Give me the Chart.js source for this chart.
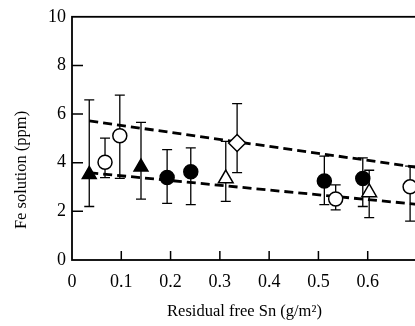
<!DOCTYPE html>
<html lang="en">
<head>
  <meta charset="UTF-8">
  <title>Fe solution vs residual free Sn</title>
  <style>
* {
  margin: 0;
  padding: 0;
  box-sizing: border-box;
}
html, body {
  width: 415px;
  height: 326px;
  overflow: hidden;
  background: #fff;
}
.chart-body {
  position: relative;
  width: 430px;
  height: 326px;
}
  </style>
</head>
<body>
  <div class="chart-body">
    <canvas id="myChart"></canvas>
  </div>
  <script src="https://cdn.jsdelivr.net/npm/chart.js@4.4.1/dist/chart.umd.min.js"></script>
  <script>
    // values (x in g/m2, y in ppm)
    const filledTriX = [0.035, 0.14];
    const filledTriY = [3.52, 3.82];
    const filledTriHi = [6.58, 5.66];
    const filledTriLo = [2.2, 2.5];

    const openCircX = [0.067, 0.097, 0.535, 0.686];
    const openCircY = [4.02, 5.11, 2.51, 3.01];
    const openCircHi = [5.01, 6.78, 3.09, 3.86];
    const openCircLo = [3.39, 3.36, 2.06, 1.6];

    const filledCircX = [0.193, 0.241, 0.512, 0.59];
    const filledCircY = [3.39, 3.63, 3.25, 3.35];
    const filledCircHi = [4.54, 4.61, 4.27, 4.2];
    const filledCircLo = [2.33, 2.28, 2.28, 2.2];

    const openTriX = [0.312, 0.603];
    const openTriY = [3.35, 2.78];
    const openTriHi = [4.88, 3.69];
    const openTriLo = [2.41, 1.74];

    const diamondX = [0.335];
    const diamondY = [4.81];
    const diamondHi = [6.43];
    const diamondLo = [3.59];

    // dashed trend lines: end points
    const upperLineX = [0.035, 0.7];
    const upperLineY = [5.72, 3.81];
    const lowerLineX = [0.035, 0.7];
    const lowerLineY = [3.59, 2.29];

    const yTicks = [0, 2, 4, 6, 8, 10];
    const xTicks = [0, 0.1, 0.2, 0.3, 0.4, 0.5, 0.6];
    const xTitle = 'Residual free Sn (g/m\u00B2)';
    const yTitle = 'Fe solution (ppm)';

    const serif = '"Liberation Serif", "DejaVu Serif", serif';

    function points(xs, ys) {
      return xs.map((x, i) => ({ x: x, y: ys[i] }));
    }

    function markers(xs, ys, lo, hi, style, radius, fill) {
      return {
        data: points(xs, ys),
        errLo: lo,
        errHi: hi,
        pointStyle: style,
        pointRadius: radius,
        pointHoverRadius: radius,
        pointBorderWidth: 1.5,
        borderColor: '#000',
        backgroundColor: fill,
        showLine: false
      };
    }

    function trend(xs, ys) {
      return {
        data: points(xs, ys),
        showLine: true,
        borderColor: '#000',
        borderWidth: 2.8,
        borderDash: [9, 5],
        pointRadius: 0,
        fill: false
      };
    }

    const errorBars = {
      id: 'errorBars',
      beforeDatasetsDraw(chart) {
        const ctx = chart.ctx;
        const yScale = chart.scales.y;
        ctx.save();
        ctx.strokeStyle = '#000';
        ctx.lineWidth = 1.3;
        chart.data.datasets.forEach((ds, i) => {
          if (!ds.errHi) return;
          chart.getDatasetMeta(i).data.forEach((pt, j) => {
            const top = yScale.getPixelForValue(ds.errHi[j]);
            const bot = yScale.getPixelForValue(ds.errLo[j]);
            ctx.beginPath();
            ctx.moveTo(pt.x, top);
            ctx.lineTo(pt.x, bot);
            ctx.moveTo(pt.x - 5, top);
            ctx.lineTo(pt.x + 5, top);
            ctx.moveTo(pt.x - 5, bot);
            ctx.lineTo(pt.x + 5, bot);
            ctx.stroke();
          });
        });
        ctx.restore();
      }
    };

    const frame = {
      id: 'frame',
      afterDraw(chart) {
        const ctx = chart.ctx;
        const a = chart.chartArea;
        const xs = chart.scales.x;
        const ys = chart.scales.y;
        ctx.save();
        ctx.strokeStyle = '#000';
        ctx.lineWidth = 1.8;
        ctx.strokeRect(a.left, a.top, a.right - a.left, a.bottom - a.top);
        // inward tick marks
        ctx.lineWidth = 1.5;
        ctx.beginPath();
        yTicks.forEach(v => {
          if (v === 0 || v === 10) return;
          const y = ys.getPixelForValue(v);
          ctx.moveTo(a.left, y);
          ctx.lineTo(a.left + 11, y);
        });
        xTicks.forEach(v => {
          if (v === 0) return;
          const x = xs.getPixelForValue(v);
          ctx.moveTo(x, a.bottom);
          ctx.lineTo(x, a.bottom - 9);
        });
        ctx.stroke();
        // y title, sits lower than the axis centre in the original
        ctx.translate(22, 170);
        ctx.rotate(-Math.PI / 2);
        ctx.fillStyle = '#000';
        ctx.font = '16.5px ' + serif;
        ctx.textAlign = 'center';
        ctx.textBaseline = 'middle';
        ctx.fillText(yTitle, 0, 0);
        ctx.restore();
      }
    };

    let ctx = document.getElementById('myChart').getContext('2d');

    let myChart = new Chart(ctx, {
      type: 'scatter',
      data: {
        datasets: [
          markers(filledTriX, filledTriY, filledTriLo, filledTriHi, 'triangle', 8, '#000'),
          markers(openCircX, openCircY, openCircLo, openCircHi, 'circle', 7, '#fff'),
          markers(filledCircX, filledCircY, filledCircLo, filledCircHi, 'circle', 7, '#000'),
          markers(openTriX, openTriY, openTriLo, openTriHi, 'triangle', 8.5, '#fff'),
          markers(diamondX, diamondY, diamondLo, diamondHi, 'rectRot', 8.5, '#fff'),
          trend(upperLineX, upperLineY),
          trend(lowerLineX, lowerLineY)
        ]
      },
      options: {
        responsive: true,
        maintainAspectRatio: false,
        animation: false,
        layout: {
          padding: { top: 14, right: 13, bottom: 0, left: 0 }
        },
        plugins: {
          legend: { display: false },
          tooltip: { enabled: false }
        },
        scales: {
          x: {
            type: 'linear',
            min: 0,
            max: 0.7,
            afterBuildTicks: scale => {
              scale.ticks = xTicks.map(v => ({ value: v }));
            },
            afterFit: scale => {
              scale.height = 66;
            },
            grid: { display: false, drawTicks: false },
            border: { display: false },
            ticks: {
              color: '#000',
              padding: 11,
              maxRotation: 0,
              font: { family: serif, size: 18 },
              callback: v => v === 0 ? '0' : v.toFixed(1)
            },
            title: {
              display: true,
              text: xTitle,
              color: '#000',
              font: { family: serif, size: 16.5 },
              padding: { top: 4, bottom: 4 }
            }
          },
          y: {
            min: 0,
            max: 10,
            afterBuildTicks: scale => {
              scale.ticks = yTicks.map(v => ({ value: v }));
            },
            afterFit: scale => {
              scale.width = 72;
            },
            grid: { display: false, drawTicks: false },
            border: { display: false },
            ticks: {
              color: '#000',
              padding: 6,
              font: { family: serif, size: 18 },
              callback: v => String(v)
            }
          }
        }
      },
      plugins: [errorBars, frame]
    });
  </script>
</body>
</html>
